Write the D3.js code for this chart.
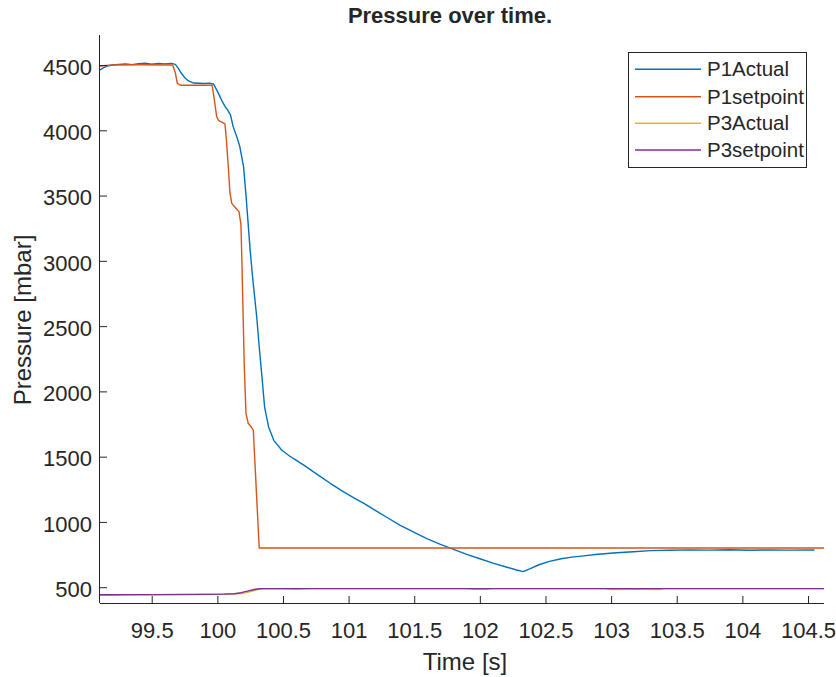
<!DOCTYPE html>
<html>
<head>
<meta charset="utf-8">
<script src="https://cdn.jsdelivr.net/npm/d3@7"></script>
<style>
  html, body { margin: 0; padding: 0; background: #ffffff; }
  svg { display: block; }
  text { font-family: "Liberation Sans", Arial, Helvetica, sans-serif; fill: #262626; }
</style>
</head>
<body>
<svg id="chart" width="836" height="677"></svg>
<script>
// ---------- DATA ----------
const seriesNames = ["P1Actual", "P1setpoint", "P3Actual", "P3setpoint"];
const seriesColors = ["#0072BD", "#D95319", "#EDB120", "#7E2F8E"];

const p1ActualTime = [99.106, 99.13, 99.16, 99.2, 99.25, 99.3, 99.35, 99.4, 99.45, 99.5, 99.55, 99.6, 99.65, 99.68, 99.7, 99.72, 99.75, 99.78, 99.82, 99.86, 99.9, 99.94, 99.97, 100.0, 100.02, 100.04, 100.06, 100.08, 100.1, 100.12, 100.15, 100.17, 100.2, 100.22, 100.25, 100.27, 100.3, 100.32, 100.34, 100.36, 100.39, 100.43, 100.49, 100.55, 100.6, 100.67, 100.73, 100.8, 100.86, 100.95, 101.04, 101.12, 101.2, 101.3, 101.39, 101.5, 101.6, 101.7, 101.8, 101.9, 102.0, 102.1, 102.2, 102.28, 102.33, 102.38, 102.45, 102.53, 102.62, 102.7, 102.79, 102.9, 103.04, 103.17, 103.3, 103.45, 103.6, 103.75, 103.9, 104.05, 104.2, 104.35, 104.55];
const p1ActualValue = [4462, 4478, 4492, 4500, 4505, 4508, 4503, 4510, 4514, 4506, 4512, 4509, 4513, 4505, 4478, 4445, 4405, 4378, 4362, 4360, 4358, 4361, 4355, 4300, 4258, 4215, 4181, 4152, 4118, 4030, 3945, 3880, 3720, 3480, 3080, 2860, 2570, 2330, 2110, 1880, 1730, 1625, 1551, 1505, 1474, 1428, 1385, 1338, 1296, 1238, 1185, 1140, 1090, 1030, 976, 920, 870, 828, 790, 752, 718, 684, 655, 632, 619, 640, 672, 698, 718, 730, 740, 752, 764, 772, 780, 783, 786, 784, 787, 783, 786, 784, 785];

const p1SetTime = [99.106, 99.2, 99.4, 99.66, 99.68, 99.695, 99.72, 99.96, 99.975, 99.995, 100.01, 100.035, 100.058, 100.069, 100.085, 100.096, 100.11, 100.14, 100.165, 100.18, 100.187, 100.205, 100.218, 100.235, 100.26, 100.274, 100.319, 104.622];
const p1SetValue = [4493, 4500, 4502, 4500, 4440, 4360, 4345, 4345, 4250, 4104, 4075, 4062, 4050, 3926, 3700, 3520, 3440, 3405, 3377, 3275, 2999, 2200, 1832, 1756, 1725, 1704, 800, 800];

const p3ActualTime = [99.106, 99.2, 99.3, 99.5, 99.8, 100.0, 100.1, 100.18, 100.23, 100.28, 100.32, 100.36, 100.5, 100.6, 100.7, 101.0, 101.9, 101.95, 102.05, 102.1, 102.95, 103.0, 103.2, 103.37, 103.4, 104.622];
const p3ActualValue = [440, 438, 441, 442, 444, 446, 449, 452, 460, 474, 485, 489, 488, 484, 489, 489, 489, 483, 484, 489, 489, 482, 483, 482, 489, 489];

const p3SetTime = [99.106, 99.5, 99.9, 100.05, 100.13, 100.18, 100.23, 100.28, 100.32, 100.36, 104.622];
const p3SetValue = [442, 443, 445, 447, 450, 458, 470, 482, 488, 489, 489];

const xTickValues = [99.5, 100, 100.5, 101, 101.5, 102, 102.5, 103, 103.5, 104, 104.5];
const xTickLabels = ["99.5", "100", "100.5", "101", "101.5", "102", "102.5", "103", "103.5", "104", "104.5"];
const yTickValues = [500, 1000, 1500, 2000, 2500, 3000, 3500, 4000, 4500];
const yTickLabels = ["500", "1000", "1500", "2000", "2500", "3000", "3500", "4000", "4500"];

const titleText = "Pressure over time.";
const xLabelText = "Time [s]";
const yLabelText = "Pressure [mbar]";

// ---------- LAYOUT ----------
const plot = { left: 100, right: 824, top: 35, bottom: 603 };
const xDomain = [99.106, 104.622];
const yDomain = [379, 4730];
const axisColor = "#262626";

const svg = d3.select("#chart");
const x = d3.scaleLinear().domain(xDomain).range([plot.left, plot.right]);
const y = d3.scaleLinear().domain(yDomain).range([plot.bottom, plot.top]);

// Lines
const seriesData = [
  d3.zip(p1ActualTime, p1ActualValue),
  d3.zip(p1SetTime, p1SetValue),
  d3.zip(p3ActualTime, p3ActualValue),
  d3.zip(p3SetTime, p3SetValue)
];
const line = d3.line().x(d => x(d[0])).y(d => y(d[1]));
const gLines = svg.append("g");
seriesData.forEach((data, i) => {
  gLines.append("path")
    .datum(data)
    .attr("fill", "none")
    .attr("stroke", seriesColors[i])
    .attr("stroke-width", 1.4)
    .attr("stroke-linejoin", "round")
    .attr("d", line);
});

// Axes
const xAxis = d3.axisBottom(x)
  .tickValues(xTickValues)
  .tickFormat((d, i) => xTickLabels[i])
  .tickSizeInner(-7).tickSizeOuter(0).tickPadding(0);
const gx = svg.append("g").attr("transform", `translate(0,${plot.bottom})`).call(xAxis);
gx.select(".domain").attr("stroke", axisColor).attr("d", `M${plot.left},0.5H${plot.right}`);
gx.selectAll(".tick line").attr("stroke", axisColor);
gx.selectAll(".tick text").attr("y", 35).attr("dy", 0)
  .style("font-size", "22px").style("font-family", "'Liberation Sans', Arial, sans-serif").attr("fill", axisColor);

const yAxis = d3.axisLeft(y)
  .tickValues(yTickValues)
  .tickFormat((d, i) => yTickLabels[i])
  .tickSizeInner(-7).tickSizeOuter(0).tickPadding(8);
const gy = svg.append("g").attr("transform", `translate(${plot.left},0)`).call(yAxis);
gy.select(".domain").attr("stroke", axisColor).attr("d", `M-0.5,${plot.top}V${plot.bottom}`);
gy.selectAll(".tick line").attr("stroke", axisColor);
gy.selectAll(".tick text").attr("dy", "0.42em")
  .style("font-size", "22px").style("font-family", "'Liberation Sans', Arial, sans-serif").attr("fill", axisColor);

// Title and labels
svg.append("text").attr("x", 450).attr("y", 23).attr("text-anchor", "middle")
  .style("font-size", "22px").style("font-weight", "bold").text(titleText);
svg.append("text").attr("x", 465).attr("y", 670).attr("text-anchor", "middle")
  .style("font-size", "24px").text(xLabelText);
svg.append("text").attr("transform", "translate(31,320) rotate(-90)").attr("text-anchor", "middle")
  .style("font-size", "24px").text(yLabelText);

// Legend
const legend = { x: 628.5, y: 52.5, w: 178, h: 115, rows: [69.3, 96.7, 123.3, 150] };
const gLeg = svg.append("g");
gLeg.append("rect").attr("x", legend.x).attr("y", legend.y).attr("width", legend.w).attr("height", legend.h)
  .attr("fill", "#ffffff").attr("stroke", axisColor).attr("stroke-width", 1);
seriesNames.forEach((name, i) => {
  const ry = legend.rows[i];
  gLeg.append("line").attr("x1", 635).attr("x2", 701).attr("y1", ry).attr("y2", ry)
    .attr("stroke", seriesColors[i]).attr("stroke-width", 1.4);
  gLeg.append("text").attr("x", 707).attr("y", ry).attr("dy", "0.35em")
    .style("font-size", "20.5px").text(name);
});
</script>
</body>
</html>
